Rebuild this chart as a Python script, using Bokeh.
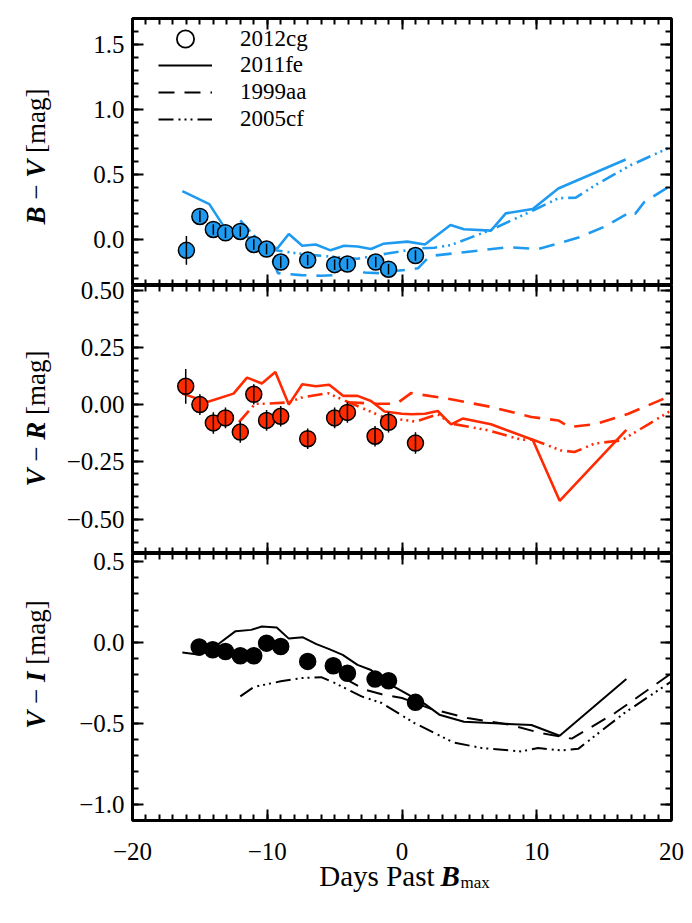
import math
from bokeh.plotting import figure
from bokeh.models import (Range1d, FixedTicker, LinearAxis, CustomJSTickFormatter,
                          Label, Legend, LegendItem)
from bokeh.layouts import column, row
from bokeh.embed import file_html
from bokeh.resources import INLINE

# ---------------- data ----------------
# SN 2012cg colours
cg_bv_day = [-16.0, -15.0, -14.0, -13.1, -12.0, -11.0, -10.05, -9.0, -7.0, -5.0, -4.05, -1.95, -1.0, 1.0]
cg_bv = [-0.08, 0.18, 0.08, 0.055, 0.065, -0.035, -0.07, -0.17, -0.155, -0.19, -0.185, -0.17, -0.225, -0.12]
cg_bv_err = [0.11, 0.045, 0.04, 0.04, 0.04, 0.04, 0.04, 0.045, 0.04, 0.04, 0.04, 0.04, 0.04, 0.04]

cg_vr_day = [-16.05, -15.0, -14.0, -13.1, -12.0, -11.0, -10.05, -9.0, -7.0, -5.0, -4.05, -2.0, -1.0, 1.0]
cg_vr = [0.08, 0.0, -0.08, -0.058, -0.12, 0.045, -0.069, -0.051, -0.149, -0.058, -0.034, -0.138, -0.077, -0.168]
cg_vr_err = [0.076, 0.045, 0.047, 0.045, 0.047, 0.044, 0.045, 0.045, 0.045, 0.045, 0.045, 0.045, 0.045, 0.047]

cg_vi_day = [-15.05, -14.05, -13.1, -12.0, -11.0, -10.05, -9.0, -7.0, -5.1, -4.05, -2.0, -1.0, 1.0]
cg_vi = [-0.028, -0.045, -0.056, -0.082, -0.082, -0.004, -0.025, -0.117, -0.144, -0.19, -0.226, -0.236, -0.37]
cg_vi_err = [0.03, 0.03, 0.03, 0.03, 0.03, 0.03, 0.03, 0.03, 0.03, 0.03, 0.03, 0.03, 0.03]

# SN 2011fe
fe_bv_day = [-16.3, -14.3, -13.2, -12.0, -11.0, -10.0, -9.25, -8.4, -7.4, -6.4, -5.3, -4.3, -3.3, -2.3,
             -1.4, 0.4, 1.7, 3.6, 4.6, 6.6, 7.7, 9.7, 11.6, 16.6]
fe_bv = [0.375, 0.275, 0.10, 0.05, 0.0, -0.04, -0.065, 0.045, -0.045, -0.035, -0.08, -0.045, -0.05, -0.07,
         -0.03, -0.013, -0.035, 0.115, 0.082, 0.071, 0.204, 0.237, 0.395, 0.617]
fe_vr_day = [-16.3, -14.45, -12.5, -11.5, -10.4, -9.4, -8.4, -7.4, -6.4, -5.4, -4.35, -3.3, -2.3, -1.3,
             0.0, 0.7, 1.7, 2.65, 3.64, 4.5, 6.6, 9.7, 11.7, 16.65]
fe_vr = [0.048, 0.011, 0.048, 0.118, 0.092, 0.142, 0.0, 0.089, 0.08, 0.087, 0.038, 0.038, 0.016, -0.03,
         -0.04, -0.042, -0.04, -0.028, -0.086, -0.061, -0.086, -0.153, -0.42, -0.11]
fe_vi_day = [-16.3, -15.0, -13.6, -12.35, -11.2, -10.4, -9.3, -8.4, -7.35, -6.35, -5.4, -4.4, -3.3, -2.3,
             -1.3, 0.0, 1.66, 2.77, 4.6, 9.6, 11.7, 16.65]
fe_vi = [-0.062, -0.076, -0.008, 0.07, 0.078, 0.099, 0.093, 0.024, 0.032, -0.01, -0.041, -0.076, -0.138, -0.17,
         -0.24, -0.30, -0.378, -0.446, -0.49, -0.51, -0.576, -0.226]

# SN 1999aa
aa_bv_day = [-9.6, -9.2, -7.5, -6.0, -5.0, -4.0, -2.8, -1.8, -0.8, 0.4, 1.2, 2.0, 2.4, 7.9, 10.1, 13.1,
             15.0, 17.0, 17.3, 18.0, 20.1]
aa_bv = [-0.16, -0.255, -0.27, -0.275, -0.27, -0.19, -0.25, -0.255, -0.24, -0.23, -0.217, -0.13, -0.12,
         -0.056, -0.071, 0.018, 0.10, 0.217, 0.20, 0.293, 0.426]
aa_vr_day = [-4.0, -1.9, -0.4, 0.67, 3.4, 6.6, 9.6, 11.6, 12.45, 14.3, 16.8, 20.0]
aa_vr = [0.01, 0.004, 0.004, 0.05, 0.026, -0.01, -0.054, -0.069, -0.098, -0.086, -0.04, 0.04]
aa_vi_day = [-4.3, -2.8, -1.5, 0.0, 2.15, 4.86, 8.1, 10.3, 12.6, 15.8, 20.0]
aa_vi = [-0.22, -0.29, -0.32, -0.343, -0.41, -0.467, -0.51, -0.56, -0.594, -0.436, -0.19]

# SN 2005cf
cf_bv_day = [-12.0, -11.3, -10.5, -9.4, -8.0, -6.8, -5.0, -3.3, -2.0, -1.1, 1.2, 2.4, 3.6, 6.6, 9.8,
             11.6, 12.9, 14.5, 17.0, 20.1]
cf_bv = [0.15, 0.07, -0.02, -0.08, -0.10, -0.115, -0.13, -0.145, -0.12, -0.105, -0.065, -0.06, -0.04,
         0.077, 0.23, 0.32, 0.325, 0.43, 0.575, 0.72]
cf_vr_day = [-12.1, -10.9, -10.0, -8.4, -7.5, -5.5, -4.3, -1.4, 1.0, 2.65, 3.64, 6.4, 8.85, 9.7, 11.8,
             12.8, 14.3, 16.3, 20.0]
cf_vr = [-0.076, 0.004, 0.004, 0.01, 0.03, 0.05, 0.019, -0.054, -0.074, -0.042, -0.083, -0.112, -0.153,
         -0.153, -0.2, -0.207, -0.17, -0.156, -0.025]
cf_vi_day = [-12.0, -11.0, -9.0, -7.5, -6.0, -5.0, -3.0, -1.5, 0.9, 3.8, 5.9, 8.85, 10.1, 11.8, 13.1,
             16.5, 20.0]
cf_vi = [-0.333, -0.275, -0.24, -0.22, -0.214, -0.25, -0.333, -0.374, -0.497, -0.617, -0.652, -0.673,
         -0.652, -0.667, -0.656, -0.436, -0.24]

legend_labels = ["2012cg", "2011fe", "1999aa", "2005cf"]

x_major = [-20, -10, 0, 10, 20]
bv_major = [0.0, 0.5, 1.0, 1.5]
vr_major = [-0.5, -0.25, 0.0, 0.25, 0.5]
vi_major = [-1.0, -0.5, 0.0, 0.5]

BV_RANGE = (-0.35, 1.7)
VR_RANGE = (-0.65, 0.52)
VI_RANGE = (-1.1, 0.55)
X_RANGE = (-20, 20)

# ---------------- style ----------------
SERIF = "Liberation Serif"
BLUE = "#1e9bf0"
RED = "#ff2a00"
BLACK = "#000000"
DASH = "16 10"
DASH3DOT = "15 5 2 4 2 4 2 5"
FRAME_W = 539
TICK_FS = "25px"
TITLE_FS = 27
TITLE_W = 60          # width of the strip holding the rotated y titles
LEFT_B = 72           # left border of the panels (frame starts at x = 132)
RIGHT_B = 13
NAN = float("nan")

x_minor = [float(v) for v in range(-20, 21)]
bv_minor = [round(0.1 * k, 2) for k in range(-3, 18)]
vr_minor = [round(0.05 * k, 2) for k in range(-13, 11)]
vi_minor = [round(0.1 * k, 2) for k in range(-11, 6)]


def num_fmt(dec):
    return CustomJSTickFormatter(
        code="var s = Math.abs(tick).toFixed(%d); return (tick < -1e-9 ? '\\u2212' : '') + s;" % dec)


def label_axis(p, place, ticks, dec, standoff):
    ax = LinearAxis(ticker=FixedTicker(ticks=ticks), formatter=num_fmt(dec),
                    axis_line_color=None, major_tick_line_color=None, minor_tick_line_color=None,
                    major_tick_in=0, major_tick_out=0, minor_tick_in=0, minor_tick_out=0,
                    major_label_text_font=SERIF, major_label_text_font_size=TICK_FS,
                    major_label_text_color="black", major_label_standoff=standoff, axis_label=None)
    p.add_layout(ax, place)


def tick_axis(p, place, ticks, minor, loc):
    ax = LinearAxis(ticker=FixedTicker(ticks=ticks, minor_ticks=minor),
                    formatter=CustomJSTickFormatter(code="return '';"),
                    fixed_location=loc,
                    axis_line_width=3, axis_line_color="black",
                    major_tick_in=11, major_tick_out=0, minor_tick_in=6, minor_tick_out=0,
                    major_tick_line_width=2, minor_tick_line_width=2,
                    major_tick_line_color="black", minor_tick_line_color="black",
                    major_label_text_font_size="0px", major_label_standoff=0, axis_label=None)
    p.add_layout(ax, place)


def make_fig(yr, frame_h, top_b, bot_b, yticks, yminor, ydec, xlabels, overlap):
    p = figure(frame_width=FRAME_W, frame_height=frame_h,
               x_range=Range1d(*X_RANGE), y_range=Range1d(*yr),
               output_backend="svg", toolbar_location=None,
               x_axis_location=None, y_axis_location=None,
               min_border_left=LEFT_B, min_border_right=RIGHT_B,
               min_border_top=top_b, min_border_bottom=bot_b,
               outline_line_color="black", outline_line_width=3,
               background_fill_color="white", align="start")
    if overlap:
        p.border_fill_color = None
        p.margin = (-overlap, 0, 0, 0)
    p.grid.visible = False
    label_axis(p, "left", yticks, ydec, 8)
    if xlabels:
        label_axis(p, "below", x_major, 0, 22)
    tick_axis(p, "left", yticks, yminor, X_RANGE[0])
    tick_axis(p, "right", yticks, yminor, X_RANGE[1])
    tick_axis(p, "above", x_major, x_minor, yr[1])
    tick_axis(p, "below", x_major, x_minor, yr[0])
    return p


def draw_panel(p, color, lw, cx, cy, ce, fx, fy, ax_, ay, kx, ky):
    p.line(fx, fy, line_color=color, line_width=lw)
    p.line(ax_, ay, line_color=color, line_width=lw, line_dash=DASH)
    p.line(kx, ky, line_color=color, line_width=lw, line_dash=DASH3DOT)
    p.scatter(cx, cy, size=16, fill_color=color, line_color="black", line_width=1.5)
    lo = [y - e for y, e in zip(cy, ce)]
    hi = [y + e for y, e in zip(cy, ce)]
    p.segment(x0=cx, y0=lo, x1=cx, y1=hi, line_color="black", line_width=1.5)


p1 = make_fig(BV_RANGE, 267, 18, 0, bv_major, bv_minor, 1, False, 0)
p2 = make_fig(VR_RANGE, 268, 14, 0, vr_major, vr_minor, 2, False, 14)
p3 = make_fig(VI_RANGE, 267, 14, 45, vi_major, vi_minor, 1, True, 14)

draw_panel(p1, BLUE, 2.6, cg_bv_day, cg_bv, cg_bv_err, fe_bv_day, fe_bv, aa_bv_day, aa_bv, cf_bv_day, cf_bv)
draw_panel(p2, RED, 2.6, cg_vr_day, cg_vr, cg_vr_err, fe_vr_day, fe_vr, aa_vr_day, aa_vr, cf_vr_day, cf_vr)
draw_panel(p3, BLACK, 2.0, cg_vi_day, cg_vi, cg_vi_err, fe_vi_day, fe_vi, aa_vi_day, aa_vi, cf_vi_day, cf_vi)

# legend (black sample glyphs; proxies hold no visible data)
r_cg = p1.scatter([NAN], [NAN], fill_color=None, line_color="black", line_width=1.8)
r_fe = p1.line([NAN], [NAN], line_color="black", line_width=2.2)
r_aa = p1.line([NAN], [NAN], line_color="black", line_width=2.2, line_dash=DASH)
r_cf = p1.line([NAN], [NAN], line_color="black", line_width=2.2, line_dash=DASH3DOT)
common = dict(padding=0, margin=0, border_line_color=None, background_fill_alpha=0,
              label_text_font=SERIF, label_text_font_size="23px", label_text_color="black",
              glyph_width=54, label_standoff=28)
legA = Legend(items=[LegendItem(label=legend_labels[0], renderers=[r_cg])], location=(26, 225),
              glyph_height=43, label_height=43, spacing=0, **common)
legB = Legend(items=[LegendItem(label=legend_labels[1], renderers=[r_fe]),
                     LegendItem(label=legend_labels[2], renderers=[r_aa]),
                     LegendItem(label=legend_labels[3], renderers=[r_cf])],
              location=(26, 153), glyph_height=26, label_height=26, spacing=1, **common)
p1.add_layout(legA)
p1.add_layout(legB)

# ---------------- titles ----------------
TITLE_H = 800
tfig = figure(width=TITLE_W, height=TITLE_H, x_range=Range1d(0, 1), y_range=Range1d(0, 1),
              output_backend="svg", toolbar_location=None, x_axis_location=None, y_axis_location=None,
              min_border_left=0, min_border_right=0, min_border_top=0, min_border_bottom=0,
              outline_line_color=None, border_fill_color=None, background_fill_color=None,
              align="start")
tfig.grid.visible = False

EM = {"B": 0.667, "V": 0.667, "R": 0.667, "I": 0.389, "\u2212": 0.564, "[mag]": 2.388}
SP = 0.25


def y_title(first, second, page_center):
    pieces = [(first, "bold italic"), ("\u2212", "normal"), (second, "bold italic"), ("[mag]", "normal")]
    total = (sum(EM[t] for t, _ in pieces) + SP * 3) * TITLE_FS
    pos = (TITLE_H - page_center) - total / 2.0
    for t, style in pieces:
        tfig.add_layout(Label(x=35, y=pos, x_units="screen", y_units="screen",
                              text=t, angle=math.pi / 2, text_align="left", text_baseline="middle",
                              text_font=SERIF, text_font_size="%dpx" % TITLE_FS,
                              text_font_style=style, text_color="black"))
        pos += (EM[t] + SP) * TITLE_FS


y_title("B", "V", 156)
y_title("V", "R", 418)
y_title("V", "I", 664)

STRIP_H = 50
xfig = figure(width=LEFT_B + FRAME_W + RIGHT_B, height=STRIP_H, x_range=Range1d(0, 1), y_range=Range1d(0, 1),
              output_backend="svg", toolbar_location=None, x_axis_location=None, y_axis_location=None,
              min_border_left=0, min_border_right=0, min_border_top=0, min_border_bottom=0,
              outline_line_color=None, border_fill_color=None, background_fill_color=None,
              align="start")
xfig.margin = (-20, 0, 0, 0)
xfig.grid.visible = False
# the strip's frame sits about 75 px right of the panel column's left edge
XT = 302   # right end of "Days Past" in strip pixels
xfig.add_layout(Label(x=XT, y=20, x_units="screen", y_units="screen", text="Days Past",
                      text_align="right", text_baseline="alphabetic", text_font=SERIF,
                      text_font_size="29px", text_color="black"))
xfig.add_layout(Label(x=XT + 6, y=20, x_units="screen", y_units="screen", text="B",
                      text_align="left", text_baseline="alphabetic", text_font=SERIF,
                      text_font_size="29px", text_font_style="bold italic", text_color="black"))
xfig.add_layout(Label(x=XT + 26, y=13, x_units="screen", y_units="screen", text="max",
                      text_align="left", text_baseline="alphabetic", text_font=SERIF,
                      text_font_size="17px", text_color="black"))

layout = row(tfig, column(p1, p2, p3, xfig, spacing=0, align="start"), spacing=0)
open("out.html", "w").write(file_html(layout, INLINE))
